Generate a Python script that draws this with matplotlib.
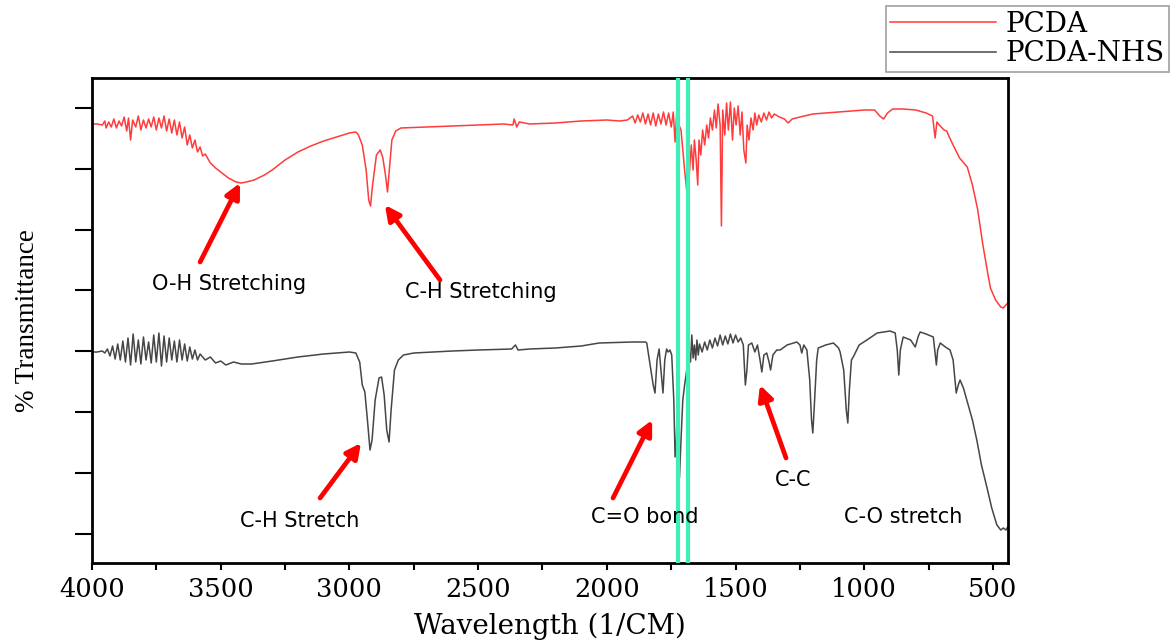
import matplotlib
matplotlib.use('Agg')
import matplotlib.pyplot as plt
import numpy as np

# wavenumber (1/cm) and transmittance (a.u.)
pcda_wn = [4000, 3980, 3960, 3950, 3945, 3935, 3925, 3915, 3905, 3895, 3885, 3875, 3865, 3858, 3850,
           3842, 3830, 3820, 3810, 3800, 3790, 3780, 3770, 3760, 3750, 3740, 3730, 3720, 3710, 3700,
           3690, 3680, 3670, 3660, 3650, 3640, 3630, 3620, 3610, 3600, 3590, 3580, 3570, 3560, 3540,
           3520, 3500, 3470, 3440, 3420, 3400, 3370, 3330, 3300, 3250, 3200, 3150, 3100, 3050, 3000,
           2975, 2965, 2950, 2935, 2925, 2918, 2910, 2895, 2880, 2870, 2860, 2852, 2845, 2835, 2820,
           2800, 2700, 2600, 2500, 2400, 2365, 2360, 2350, 2340, 2300, 2200, 2100, 2000, 1950, 1920,
           1900, 1890, 1880, 1870, 1860, 1850, 1840, 1830, 1820, 1810, 1800, 1790, 1780, 1770, 1760,
           1750, 1742, 1735, 1728, 1720, 1712, 1705, 1698, 1690, 1685, 1680, 1672, 1665, 1660, 1653,
           1647, 1642, 1635, 1628, 1620, 1612, 1605, 1598, 1590, 1582, 1575, 1568, 1560, 1555, 1550,
           1542, 1535, 1528, 1520, 1512, 1505, 1498, 1490, 1482, 1475, 1468, 1460, 1455, 1448, 1440,
           1432, 1425, 1418, 1410, 1400, 1390, 1380, 1370, 1360, 1350, 1330, 1310, 1296, 1280, 1250,
           1200, 1150, 1100, 1050, 1000, 960, 940, 925, 910, 890, 850, 800, 760, 735, 725,
           718, 705, 690, 680, 670, 655, 630, 600, 580, 560, 540, 520, 510, 490, 470,
           460, 450, 443]
pcda_t = [410, 410, 409, 413, 406, 412, 407, 415, 406, 413, 408, 417, 403, 416, 394,
          414, 407, 418, 404, 414, 406, 415, 407, 417, 404, 416, 406, 418, 403, 415,
          401, 414, 399, 412, 396, 407, 389, 399, 386, 394, 382, 387, 378, 380, 371,
          366, 362, 356, 352, 351, 352, 354, 359, 364, 374, 382, 388, 393, 397, 401,
          402, 399, 389, 364, 334, 328, 349, 379, 384, 376, 359, 342, 364, 394, 403,
          406, 407, 408, 409, 410, 409, 415, 407, 412, 410, 411, 413, 414, 413, 414,
          418, 411, 419, 412, 421, 410, 420, 409, 421, 408, 420, 410, 422, 409, 421,
          407, 422, 392, 424, 409, 404, 384, 364, 344, 338, 359, 389, 364, 394, 374,
          349, 394, 379, 404, 389, 409, 396, 416, 404, 424, 406, 430, 409, 308, 424,
          399, 431, 404, 432, 394, 426, 409, 428, 399, 422, 384, 371, 409, 394, 416,
          404, 421, 409, 419, 412, 421, 414, 422, 416, 420, 417, 415, 411, 415, 417,
          420, 421, 422, 423, 424, 424, 418, 415, 421, 425, 425, 424, 421, 418, 396,
          412, 408, 404, 403, 397, 389, 376, 367, 349, 325, 290, 260, 246, 234, 227,
          226, 229, 231]

nhs_wn = [4000, 3980, 3960, 3950, 3940, 3930, 3920, 3910, 3900, 3890, 3880, 3870, 3860, 3850, 3840,
          3830, 3820, 3810, 3800, 3790, 3780, 3770, 3760, 3750, 3740, 3730, 3720, 3710, 3700, 3690,
          3680, 3670, 3660, 3650, 3640, 3630, 3620, 3610, 3600, 3590, 3580, 3560, 3540, 3520, 3500,
          3480, 3450, 3420, 3380, 3300, 3200, 3100, 3000, 2975, 2960, 2950, 2940, 2930, 2920, 2912,
          2900, 2885, 2875, 2865, 2855, 2846, 2838, 2825, 2810, 2790, 2750, 2600, 2500, 2370, 2355,
          2345, 2300, 2200, 2100, 2030, 1900, 1850, 1845, 1835, 1820, 1813, 1805, 1797, 1790, 1782,
          1775, 1768, 1762, 1755, 1748, 1740, 1735, 1730, 1727, 1722, 1718, 1712, 1705, 1698, 1690,
          1685, 1680, 1675, 1670, 1665, 1660, 1655, 1650, 1645, 1640, 1630, 1620, 1610, 1600, 1590,
          1580, 1570, 1560, 1550, 1540, 1530, 1520, 1510, 1500, 1490, 1480, 1470, 1462, 1456, 1450,
          1437, 1425, 1415, 1405, 1398, 1390, 1379, 1370, 1364, 1355, 1340, 1327, 1300, 1262, 1250,
          1243, 1235, 1223, 1212, 1205, 1200, 1195, 1185, 1179, 1150, 1120, 1100, 1094, 1080, 1070,
          1064, 1058, 1050, 1043, 1020, 990, 950, 900, 880, 872, 866, 860, 849, 820, 802,
          790, 783, 760, 732, 720, 715, 705, 685, 667, 655, 643, 635, 628, 615, 602,
          580, 563, 545, 524, 505, 485, 470, 460, 450, 443]
nhs_t = [182, 182, 183, 181, 185, 178, 188, 175, 190, 174, 193, 172, 196, 169, 200,
         172, 194, 170, 197, 174, 192, 171, 199, 172, 201, 168, 198, 172, 196, 174,
         193, 172, 194, 174, 190, 173, 187, 175, 184, 174, 180, 174, 177, 171, 173,
         169, 172, 170, 170, 173, 177, 180, 182, 181, 172, 149, 142, 114, 84, 94,
         134, 156, 157, 139, 104, 92, 124, 164, 174, 179, 181, 183, 184, 185, 189,
         184, 185, 186, 188, 191, 192, 192, 191, 174, 149, 141, 174, 185, 164, 141,
         174, 185, 182, 184, 179, 134, 77, 94, 124, 84, 56, 94, 134, 149, 164,
         174, 182, 172, 199, 176, 189, 174, 194, 179, 190, 182, 192, 184, 194, 186,
         196, 188, 199, 189, 198, 190, 200, 191, 199, 192, 196, 189, 149, 164, 189,
         191, 182, 189, 174, 162, 179, 181, 172, 164, 179, 184, 184, 189, 192, 189,
         181, 189, 184, 154, 114, 101, 124, 174, 186, 189, 191, 186, 182, 164, 124,
         111, 144, 174, 177, 189, 194, 201, 203, 201, 184, 159, 184, 197, 194, 187,
         198, 202, 200, 197, 169, 184, 191, 187, 184, 174, 141, 149, 154, 146, 134,
         114, 94, 69, 47, 26, 9, 4, 6, 4, 7]

marker_lines = [1723, 1685]

labels = ['O-H Stretching', 'C-H Stretching', 'C-H Stretch', 'C=O bond', 'C-C', 'C-O stretch']
label_xy = [(3468, 250), (2489, 242), (3192, 13), (1852, 17), (1277, 54), (849, 17)]
arrow_tail = [(3580, 272), (2648, 254), (3114, 36), (1976, 36), (1304, 76), None]
arrow_tip = [(3425, 351), (2862, 329), (2955, 91), (1824, 114), (1405, 149), None]

fig = plt.figure(figsize=(11.7, 6.43), dpi=100)
ax = fig.add_axes([0.0786, 0.1244, 0.7829, 0.7543])

l1, = ax.plot(pcda_wn, pcda_t, color='#ff3b3b', lw=1.1, label='PCDA')
l2, = ax.plot(nhs_wn, nhs_t, color='#464646', lw=1.1, label='PCDA-NHS')
for x in marker_lines:
    ax.axvline(x, color='#3ef0b8', lw=3, zorder=3)

for txt, xy, tail, tip in zip(labels, label_xy, arrow_tail, arrow_tip):
    ax.text(xy[0], xy[1], txt, ha='center', va='center', fontsize=15,
            family='DejaVu Sans', color='black')
    if tail is not None:
        ax.annotate('', xy=tip, xytext=tail,
                    arrowprops=dict(arrowstyle='-|>', color='red', lw=3.4,
                                    mutation_scale=22, shrinkA=0, shrinkB=0))

ax.set_xlim(4000, 442)
ax.set_ylim(-29, 456)
ax.set_xticks([4000, 3500, 3000, 2500, 2000, 1500, 1000, 500])
ax.set_xticks(np.arange(3750, 450, -500), minor=True)
ax.set_yticks(np.arange(0, 430, 60.9))
ax.set_yticklabels([])
ax.tick_params(axis='x', which='both', length=5, width=1.5, labelsize=18.5, pad=5)
ax.tick_params(axis='y', length=12, width=1.5)
for lab in ax.get_xticklabels():
    lab.set_family('DejaVu Serif')
for s in ax.spines.values():
    s.set_linewidth(2)

ax.set_xlabel('Wavelength (1/CM)', family='DejaVu Serif', fontsize=20, labelpad=8)
ax.set_ylabel('% Transmittance', family='Liberation Serif', fontsize=19.5, labelpad=22)

leg = fig.legend(handles=[l1, l2], loc='upper right', bbox_to_anchor=(0.999, 0.99),
                 prop={'family': 'DejaVu Serif', 'size': 20}, frameon=True,
                 fancybox=False, edgecolor='#888888', handlelength=3.8,
                 borderpad=0.15, borderaxespad=0, labelspacing=0.1, handletextpad=0.35)
leg.get_frame().set_linewidth(1.2)

fig.savefig('out.png', dpi=100)
